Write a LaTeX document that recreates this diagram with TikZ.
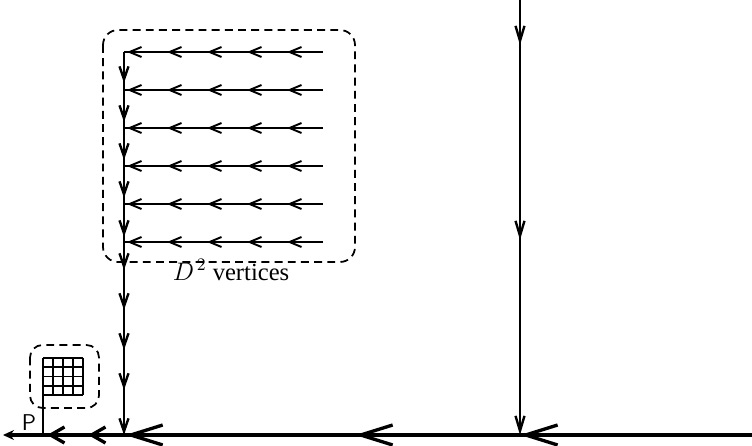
\documentclass[tikz,border=0pt]{standalone}
\usepackage{fontspec}
\setmainfont{Liberation Serif}
\usetikzlibrary{arrows.meta,decorations.markings}

\begin{document}
\begin{tikzpicture}[
        x=0.02cm, y=-0.02cm,
        rowline/.style={line width=1.1pt},
        colline/.style={line width=1.35pt},
        baseline/.style={line width=1.9pt},
        region/.style={
            draw,
            dash pattern=on 4.5pt off 3pt,
            line width=1pt,
            rounded corners=0.3cm
        },
        rowtips/.style={
            postaction={decorate},
            decoration={markings,
                mark=between positions 0.72cm and 3.95cm step 0.8cm with {\arrow{Straight Barb[length=0.24cm,width=0.2cm]}}}
        },
        coltips/.style={
            postaction={decorate},
            decoration={markings,
                mark=at position 0.62cm with {\arrow{Straight Barb[length=0.26cm,width=0.18cm]}},
                mark=at position 1.40cm with {\arrow{Straight Barb[length=0.26cm,width=0.18cm]}},
                mark=at position 2.16cm with {\arrow{Straight Barb[length=0.26cm,width=0.18cm]}},
                mark=at position 2.92cm with {\arrow{Straight Barb[length=0.26cm,width=0.18cm]}},
                mark=at position 3.70cm with {\arrow{Straight Barb[length=0.26cm,width=0.18cm]}},
                mark=at position 4.36cm with {\arrow{Straight Barb[length=0.26cm,width=0.18cm]}},
                mark=at position 5.16cm with {\arrow{Straight Barb[length=0.26cm,width=0.18cm]}},
                mark=at position 5.96cm with {\arrow{Straight Barb[length=0.26cm,width=0.18cm]}},
                mark=at position 6.76cm with {\arrow{Straight Barb[length=0.26cm,width=0.18cm]}}}
        },
        sidetips/.style={
            postaction={decorate},
            decoration={markings,
                mark=at position 0.9cm with {\arrow{Straight Barb[length=0.3cm,width=0.18cm]}},
                mark=at position 4.8cm with {\arrow{Straight Barb[length=0.3cm,width=0.18cm]}}}
        },
        basetips/.style={
            postaction={decorate},
            decoration={markings,
                mark=at position 4.64cm with {\arrow{Straight Barb[length=0.64cm,width=0.4cm]}},
                mark=at position 7.94cm with {\arrow{Straight Barb[length=0.64cm,width=0.4cm]}},
                mark=at position 12.54cm with {\arrow{Straight Barb[length=0.64cm,width=0.4cm]}},
                mark=at position 13.28cm with {\arrow{Straight Barb[length=0.28cm,width=0.32cm]}},
                mark=at position 14.10cm with {\arrow{Straight Barb[length=0.28cm,width=0.32cm]}}}
        }
    ]
        \useasboundingbox (0,0) rectangle (752,446);

        % the D^2 block
        \foreach \r [count=\i] in {52,90,128,166,204,242} {
            \coordinate (w\i) at (124,\r);
            \coordinate (e\i) at (323,\r);
            \draw[rowline, rowtips] (e\i) -- (w\i);
        }
        \coordinate (foot) at (124,435);
        \draw[colline, coltips, -{Straight Barb[length=0.26cm,width=0.18cm]}] (w1) -- (foot);
        \draw[region] (103,30) rectangle (355,262);
        \node[font=\fontsize{14}{16}\selectfont] (dsq) at (231,270) {$D^{\,2}$ vertices};

        % right line
        \coordinate (rtop) at (520,0);
        \coordinate (rfoot) at (520,435);
        \draw[colline, sidetips, -{Straight Barb[length=0.3cm,width=0.18cm]}] (rtop) -- (rfoot);

        % base line
        \coordinate (east) at (752,435);
        \coordinate (west) at (3,435);
        \draw[baseline, basetips, -{Stealth[length=0.22cm,width=0.2cm]}] (east) -- (west);

        % flag at P
        \coordinate (pole) at (43,435);
        \coordinate (flag) at (43,358);
        \draw[colline] (pole) -- (flag);
        \foreach \k in {0,...,4} {
            \draw[line width=0.9pt] (43+10*\k,358) -- (43+10*\k,395);
            \draw[line width=0.9pt] (43,358+9.25*\k) -- (83,358+9.25*\k);
        }
        \draw[region, rounded corners=0.25cm] (30,345) rectangle (99,408);
        \node[font=\sffamily\fontsize{13}{15}\selectfont, inner sep=0pt] (p) at (29,423) {P};
    \end{tikzpicture}
\end{document}
